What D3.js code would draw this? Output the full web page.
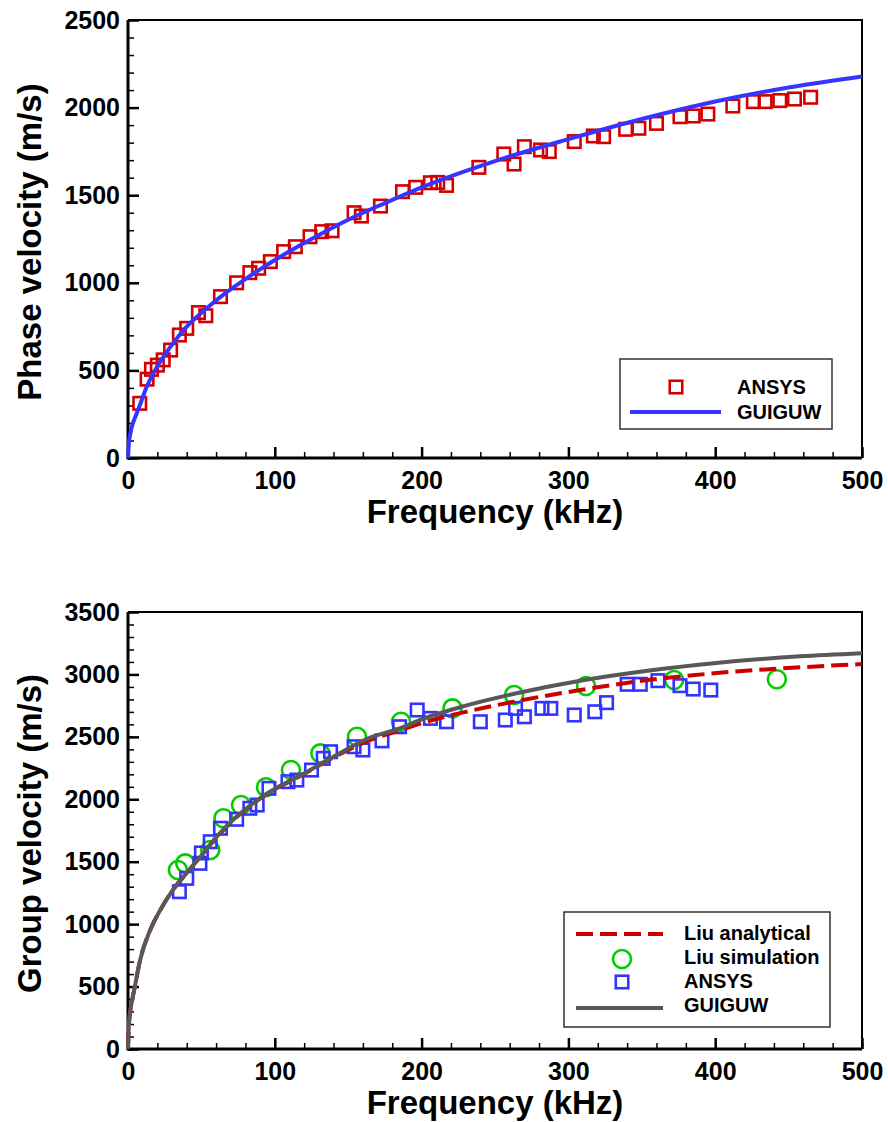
<!DOCTYPE html>
<html>
<head>
<meta charset="utf-8">
<script src="https://cdn.jsdelivr.net/npm/d3@7"></script>
<style>
  body { margin: 0; background: #fff; }
  svg text { font-family: "Liberation Sans", Arial, Helvetica, sans-serif; font-weight: bold; }
</style>
</head>
<body>
<div id="chart"></div>
<script>
// ---- top panel: phase velocity ----
const ansysPhaseF = [8, 13, 16, 20, 24, 29, 35, 40, 48, 53, 63, 74, 83, 89, 97, 106, 114, 124, 132, 139,
  154, 159, 172, 187, 196, 206, 211, 217, 239, 256, 263, 270, 281, 287, 304, 317, 324, 339, 348, 360,
  376, 385, 395, 412, 426, 434, 444, 454, 465];
const ansysPhaseV = [312, 450, 506, 530, 560, 616, 702, 740, 830, 812, 921, 1000, 1058, 1083, 1121, 1178, 1206, 1263, 1292, 1297,
  1400, 1381, 1438, 1520, 1545, 1571, 1573, 1556, 1659, 1735, 1678, 1777, 1758, 1749, 1806, 1838, 1834, 1876, 1882, 1910,
  1948, 1952, 1963, 2009, 2034, 2034, 2040, 2049, 2059];
const guiguwPhaseF = [0, 0.5, 1.5, 3, 5, 8, 12.7, 19.4, 28.5, 40, 53, 67, 78, 100, 125, 150, 175, 200, 250, 300, 350, 400, 450, 500];
const guiguwPhaseV = [0, 75, 135, 190, 235, 300, 405, 515, 630, 750, 850, 945, 1010, 1130, 1250, 1360, 1455, 1545, 1695, 1820, 1935, 2035, 2115, 2178];

// ---- bottom panel: group velocity ----
const liuAnaF = [0, 0.5, 1.5, 3, 5, 8, 15, 22, 30, 40, 50, 60, 72, 95, 118, 140, 163, 186, 200, 230, 263, 308, 354, 399, 458, 500];
const liuAnaV = [0, 170, 300, 400, 520, 700, 950, 1113, 1265, 1410, 1550, 1690, 1835, 2045, 2190, 2335, 2465, 2555, 2610, 2700, 2782, 2875, 2955, 3009, 3057, 3083];
const liuSimF = [34, 39, 56, 65, 77, 94, 111, 131, 156, 186, 221, 263, 312, 372, 442];
const liuSimV = [1434, 1487, 1594, 1848, 1954, 2096, 2234, 2368, 2501, 2621, 2728, 2835, 2907, 2955, 2961];
const ansysGroupF = [35, 40, 49, 50, 56, 63, 74, 83, 88, 96, 109, 115, 125, 133, 138, 154, 160, 173, 185,
  197, 206, 217, 240, 257, 264, 270, 282, 288, 304, 318, 326, 340, 349, 361, 376, 385, 397];
const ansysGroupV = [1260, 1367, 1487, 1570, 1660, 1768, 1840, 1928, 1954, 2088, 2141, 2154, 2234, 2328, 2381, 2421, 2395, 2468, 2581,
  2715, 2648, 2621, 2621, 2635, 2728, 2661, 2728, 2728, 2675, 2701, 2774, 2921, 2921, 2950, 2910, 2883, 2875];
const guiguwGroupF = [0, 0.5, 1.5, 3, 5, 8, 15, 22, 30, 40, 50, 60, 72, 95, 118, 140, 163, 186, 200, 230, 263, 308, 354, 399, 458, 500];
const guiguwGroupV = [0, 170, 300, 400, 520, 700, 950, 1113, 1265, 1410, 1550, 1695, 1840, 2048, 2194, 2341, 2485, 2572, 2640, 2750, 2845, 2950, 3030, 3090, 3145, 3170];

const freqTicks = [0, 100, 200, 300, 400, 500];
const phaseTicks = [0, 500, 1000, 1500, 2000, 2500];
const groupTicks = [0, 500, 1000, 1500, 2000, 2500, 3000, 3500];

const zip = (a, b) => a.map((d, i) => [d, b[i]]);

const svg = d3.select("#chart").append("svg")
  .attr("width", 888).attr("height", 1122);

function panel(opt) {
  const x = d3.scaleLinear().domain([0, 500]).range([128, 862]);
  const y = d3.scaleLinear().domain([0, opt.ymax]).range([opt.bottom, opt.top]);
  const g = svg.append("g");

  // minor ticks
  g.append("g").attr("transform", `translate(0,${opt.bottom})`)
    .call(d3.axisBottom(x).tickValues(d3.range(0, 501, 20)).tickSize(-6).tickFormat(""))
    .call(a => a.select(".domain").remove())
    .selectAll("line").attr("stroke-width", 1.5);
  g.append("g").attr("transform", "translate(128,0)")
    .call(d3.axisLeft(y).tickValues(d3.range(0, opt.ymax + 1, 100)).tickSize(-6).tickFormat(""))
    .call(a => a.select(".domain").remove())
    .selectAll("line").attr("stroke-width", 1.5);

  // major ticks + labels
  const xa = g.append("g").attr("transform", `translate(0,${opt.bottom})`)
    .call(d3.axisBottom(x).tickValues(freqTicks).tickFormat(d3.format("d")).tickSize(-11).tickPadding(13))
    .call(a => a.select(".domain").remove());
  const ya = g.append("g").attr("transform", "translate(128,0)")
    .call(d3.axisLeft(y).tickValues(opt.yticks).tickFormat(d3.format("d")).tickSize(-11).tickPadding(8))
    .call(a => a.select(".domain").remove());
  [xa, ya].forEach(a => {
    a.selectAll("line").attr("stroke-width", 2.5);
    a.selectAll("text").attr("font-size", 25).attr("fill", "#000");
  });

  // frame
  g.append("path")
    .attr("d", `M128,${opt.top}H862V${opt.bottom}`)
    .attr("fill", "none").attr("stroke", "#000").attr("stroke-width", 2);
  g.append("path")
    .attr("d", `M128,${opt.top}V${opt.bottom}H862`)
    .attr("fill", "none").attr("stroke", "#000").attr("stroke-width", 3);

  // titles
  g.append("text").attr("x", 495).attr("y", opt.bottom + 65)
    .attr("text-anchor", "middle").attr("font-size", 33).text("Frequency (kHz)");
  g.append("text")
    .attr("transform", `translate(41,${(opt.top + opt.bottom) / 2 + 3}) rotate(-90)`)
    .attr("text-anchor", "middle").attr("font-size", 33).text(opt.ytitle);

  return { g, x, y };
}

function squares(g, x, y, data, color) {
  g.append("g").selectAll("rect").data(data).enter().append("rect")
    .attr("x", d => x(d[0]) - 6.25).attr("y", d => y(d[1]) - 6.25)
    .attr("width", 12.5).attr("height", 12.5)
    .attr("fill", "none").attr("stroke", color).attr("stroke-width", 2.6);
}

function curve(g, x, y, data, color, dash) {
  g.append("path").datum(data)
    .attr("d", d3.line().x(d => x(d[0])).y(d => y(d[1])).curve(d3.curveMonotoneX))
    .attr("fill", "none").attr("stroke", color).attr("stroke-width", 4)
    .attr("stroke-dasharray", dash || null);
}

// top panel
const p1 = panel({ top: 20, bottom: 458, ymax: 2500, yticks: phaseTicks, ytitle: "Phase velocity (m/s)" });
squares(p1.g, p1.x, p1.y, zip(ansysPhaseF, ansysPhaseV), "#d40000");
curve(p1.g, p1.x, p1.y, zip(guiguwPhaseF, guiguwPhaseV), "#3535ff");

// top legend
const l1 = svg.append("g");
l1.append("rect").attr("x", 620).attr("y", 359).attr("width", 212).attr("height", 70)
  .attr("fill", "#fff").attr("stroke", "#333").attr("stroke-width", 1.5);
l1.append("rect").attr("x", 669.75).attr("y", 380.75).attr("width", 12.5).attr("height", 12.5)
  .attr("fill", "none").attr("stroke", "#d40000").attr("stroke-width", 2.6);
l1.append("line").attr("x1", 630).attr("x2", 721).attr("y1", 412).attr("y2", 412)
  .attr("stroke", "#3535ff").attr("stroke-width", 4);
l1.append("text").attr("x", 737).attr("y", 394).attr("font-size", 20).text("ANSYS");
l1.append("text").attr("x", 737).attr("y", 419).attr("font-size", 20).text("GUIGUW");

// bottom panel
const p2 = panel({ top: 612, bottom: 1049, ymax: 3500, yticks: groupTicks, ytitle: "Group velocity (m/s)" });
p2.g.append("g").selectAll("circle").data(zip(liuSimF, liuSimV)).enter().append("circle")
  .attr("cx", d => p2.x(d[0])).attr("cy", d => p2.y(d[1])).attr("r", 9)
  .attr("fill", "none").attr("stroke", "#00cc00").attr("stroke-width", 2.6);
squares(p2.g, p2.x, p2.y, zip(ansysGroupF, ansysGroupV), "#3333ff");
curve(p2.g, p2.x, p2.y, zip(liuAnaF, liuAnaV), "#cc0000", "17 7");
curve(p2.g, p2.x, p2.y, zip(guiguwGroupF, guiguwGroupV), "#585858");

// bottom legend
const l2 = svg.append("g");
l2.append("rect").attr("x", 564).attr("y", 912).attr("width", 266).attr("height", 115)
  .attr("fill", "#fff").attr("stroke", "#333").attr("stroke-width", 1.5);
l2.append("line").attr("x1", 576).attr("x2", 663).attr("y1", 934).attr("y2", 934)
  .attr("stroke", "#cc0000").attr("stroke-width", 4).attr("stroke-dasharray", "17 7");
l2.append("circle").attr("cx", 622).attr("cy", 959).attr("r", 9)
  .attr("fill", "none").attr("stroke", "#00cc00").attr("stroke-width", 2.6);
l2.append("rect").attr("x", 615.75).attr("y", 975.75).attr("width", 12.5).attr("height", 12.5)
  .attr("fill", "none").attr("stroke", "#3333ff").attr("stroke-width", 2.6);
l2.append("line").attr("x1", 576).attr("x2", 663).attr("y1", 1008).attr("y2", 1008)
  .attr("stroke", "#585858").attr("stroke-width", 4);
[["Liu analytical", 940], ["Liu simulation", 964], ["ANSYS", 988], ["GUIGUW", 1012]].forEach(([t, yy]) =>
  l2.append("text").attr("x", 684).attr("y", yy).attr("font-size", 20).text(t));
</script>
</body>
</html>
